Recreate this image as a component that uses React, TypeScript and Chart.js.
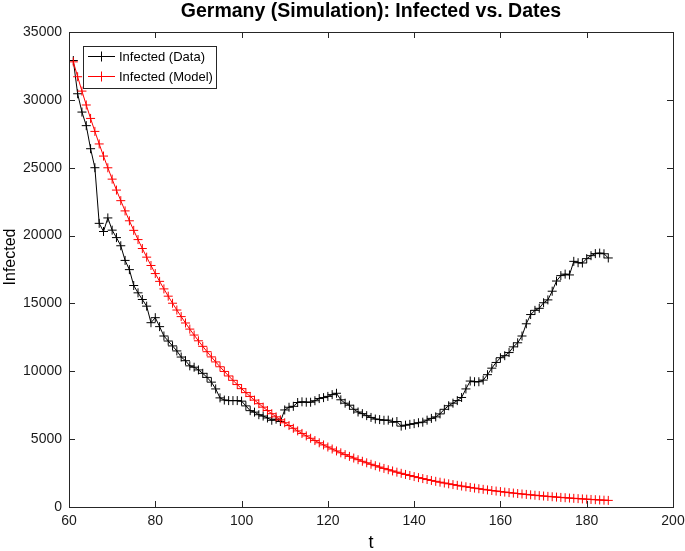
import React, { useEffect, useRef } from "react";
import { Chart, registerables } from "chart.js";

Chart.register(...registerables);

const FONT = "'Liberation Sans', Arial, Helvetica, sans-serif";

const chartTitle = "Germany (Simulation): Infected vs. Dates";
const xTitle = "t";
const yTitle = "Infected";
const dataLabel = "Infected (Data)";
const modelLabel = "Infected (Model)";

const xRange = [60, 200];
const xStep = 20;
const yRange = [0, 35000];
const yStep = 5000;

const tValues = [
  61, 62, 63, 64, 65, 66, 67, 68, 69, 70, 71, 72, 73, 74, 75, 76, 77, 78, 79, 80,
  81, 82, 83, 84, 85, 86, 87, 88, 89, 90, 91, 92, 93, 94, 95, 96, 97, 98, 99, 100,
  101, 102, 103, 104, 105, 106, 107, 108, 109, 110, 111, 112, 113, 114, 115, 116, 117, 118, 119, 120,
  121, 122, 123, 124, 125, 126, 127, 128, 129, 130, 131, 132, 133, 134, 135, 136, 137, 138, 139, 140,
  141, 142, 143, 144, 145, 146, 147, 148, 149, 150, 151, 152, 153, 154, 155, 156, 157, 158, 159, 160,
  161, 162, 163, 164, 165, 166, 167, 168, 169, 170, 171, 172, 173, 174, 175, 176, 177, 178, 179, 180,
  181, 182, 183, 184, 185,
];

const infectedData = [
  32900, 30450, 29100, 28100, 26400, 25000, 20900, 20300, 21300, 20400,
  19850, 19250, 18170, 17490, 16320, 15780, 15290, 14800, 13580, 13950,
  13290, 12600, 12230, 11870, 11500, 11050, 10780, 10400, 10300, 10100,
  9850, 9550, 9200, 8700, 8040, 7880, 7840, 7840, 7840, 7800,
  7450, 7100, 6990, 6800, 6700, 6560, 6390, 6470, 6300, 7150,
  7350, 7420, 7700, 7750, 7720, 7720, 7830, 7990, 8060, 8150,
  8280, 8380, 7900, 7650, 7500, 7200, 7000, 6880, 6730, 6600,
  6480, 6440, 6390, 6400, 6250, 6300, 5960, 6030, 6090, 6140,
  6210, 6250, 6400, 6530, 6640, 6860, 7200, 7460, 7650, 7840,
  8070, 8700, 9280, 9230, 9230, 9350, 9750, 10230, 10650, 11000,
  11150, 11380, 11800, 12100, 12600, 13500, 14180, 14490, 14640, 15050,
  15260, 15900, 16650, 17050, 17160, 17100, 18100, 18000, 17980, 18300,
  18520, 18670, 18710, 18660, 18350,
];

const infectedModel = [
  32800, 31704, 30645, 29622, 28632, 27676, 26751, 25858, 24994, 24159,
  23352, 22572, 21818, 21089, 20385, 19704, 19046, 18410, 17795, 17200,
  16626, 16071, 15534, 15015, 14514, 14029, 13560, 13108, 12670, 12247,
  11838, 11442, 11060, 10691, 10334, 9989, 9655, 9333, 9021, 8720,
  8428, 8147, 7875, 7612, 7358, 7112, 6875, 6645, 6423, 6208,
  6001, 5800, 5607, 5420, 5239, 5064, 4895, 4731, 4573, 4421,
  4273, 4130, 3992, 3859, 3730, 3606, 3485, 3369, 3256, 3148,
  3043, 2941, 2843, 2748, 2656, 2567, 2482, 2399, 2319, 2241,
  2166, 2094, 2024, 1956, 1891, 1828, 1767, 1708, 1651, 1596,
  1542, 1491, 1441, 1393, 1346, 1301, 1258, 1216, 1175, 1136,
  1098, 1061, 1026, 992, 959, 927, 896, 866, 837, 809,
  782, 756, 731, 706, 683, 660, 638, 617, 596, 576,
  557, 538, 520, 503, 486,
];

const AXIS_COLOR = "#262626";

function drawCross(ctx: CanvasRenderingContext2D, x: number, y: number, r: number) {
  ctx.beginPath();
  ctx.moveTo(x - r, y);
  ctx.lineTo(x + r, y);
  ctx.moveTo(x, y - r);
  ctx.lineTo(x, y + r);
  ctx.stroke();
}

const decorPlugin = {
  id: "decor",
  afterDatasetsDraw(chart: any) {
    const { ctx, chartArea } = chart;
    const { left, right, top, bottom } = chartArea;
    const xs = chart.scales.x;
    const ys = chart.scales.y;
    ctx.save();
    ctx.strokeStyle = AXIS_COLOR;
    ctx.lineWidth = 1;
    ctx.strokeRect(Math.round(left) + 0.5, Math.round(top) + 0.5, Math.round(right - left), Math.round(bottom - top));
    const tl = 6;
    ctx.beginPath();
    for (let v = xRange[0]; v <= xRange[1]; v += xStep) {
      const px = Math.round(xs.getPixelForValue(v)) + 0.5;
      ctx.moveTo(px, bottom);
      ctx.lineTo(px, bottom - tl);
      ctx.moveTo(px, top);
      ctx.lineTo(px, top + tl);
    }
    for (let v = yRange[0]; v <= yRange[1]; v += yStep) {
      const py = Math.round(ys.getPixelForValue(v)) + 0.5;
      ctx.moveTo(left, py);
      ctx.lineTo(left + tl, py);
      ctx.moveTo(right, py);
      ctx.lineTo(right - tl, py);
    }
    ctx.stroke();

    ctx.fillStyle = "#000";
    ctx.textAlign = "center";
    ctx.textBaseline = "middle";
    ctx.font = `bold 19.5px ${FONT}`;
    ctx.fillText(chartTitle, (left + right) / 2, 12);

    ctx.font = `18px ${FONT}`;
    ctx.fillText(xTitle, (left + right) / 2, 543);
    ctx.save();
    ctx.translate(11, 257);
    ctx.rotate(-Math.PI / 2);
    ctx.font = `16px ${FONT}`;
    ctx.fillText(yTitle, 0, 0);
    ctx.restore();

    const lx = 83.5, ly = 46.5, lw = 133, lh = 42;
    ctx.fillStyle = "#fff";
    ctx.fillRect(lx, ly, lw, lh);
    ctx.strokeStyle = AXIS_COLOR;
    ctx.strokeRect(lx, ly, lw, lh);
    const rows = [
      { label: dataLabel, color: "#000000", y: 56.5 },
      { label: modelLabel, color: "#ff0000", y: 76.5 },
    ];
    ctx.font = `13px ${FONT}`;
    ctx.textAlign = "left";
    for (const r of rows) {
      ctx.strokeStyle = r.color;
      ctx.lineWidth = 1;
      ctx.beginPath();
      ctx.moveTo(88, r.y);
      ctx.lineTo(115, r.y);
      ctx.stroke();
      drawCross(ctx, 101.5, r.y, 5);
      ctx.fillStyle = "#000";
      ctx.fillText(r.label, 119, r.y + 0.5);
    }
    ctx.restore();
  },
};

export default function App() {
  const ref = useRef<HTMLCanvasElement | null>(null);

  useEffect(() => {
    document.body.style.margin = "0";
    const canvas = ref.current;
    if (!canvas) return;
    const dataPts = tValues.map((t, i) => ({ x: t, y: infectedData[i] }));
    const modelPts = tValues.map((t, i) => ({ x: t, y: infectedModel[i] }));
    const tickFont = { family: FONT, size: 14 };
    const chart = new Chart(canvas, {
      type: "line",
      data: {
        datasets: [
          {
            label: modelLabel,
            data: modelPts,
            borderColor: "#ff0000",
            backgroundColor: "#ff0000",
            borderWidth: 1,
            pointStyle: "cross",
            pointRadius: 4.5,
            pointBorderWidth: 1,
            pointBorderColor: "#ff0000",
            pointHoverRadius: 4.5,
            tension: 0,
            order: 1,
          },
          {
            label: dataLabel,
            data: dataPts,
            borderColor: "#000000",
            backgroundColor: "#000000",
            borderWidth: 1,
            pointStyle: "cross",
            pointRadius: 4.5,
            pointBorderWidth: 1,
            pointBorderColor: "#000000",
            pointHoverRadius: 4.5,
            tension: 0,
            order: 2,
          },
        ],
      },
      options: {
        animation: false,
        responsive: false,
        devicePixelRatio: 1,
        layout: { padding: { top: 32, right: 12, left: 0, bottom: 0 } },
        plugins: {
          legend: { display: false },
          tooltip: { enabled: false },
          title: { display: false },
        },
        scales: {
          x: {
            type: "linear",
            min: xRange[0],
            max: xRange[1],
            ticks: {
              stepSize: xStep,
              font: tickFont,
              color: "#1a1a1a",
              padding: 6,
              maxRotation: 0,
              autoSkip: false,
              callback: (v: any) => String(v),
            },
            grid: { display: false, drawTicks: false },
            border: { display: false },
            afterFit: (s: any) => {
              s.height = 44;
              s.paddingLeft = 0;
              s.paddingRight = 0;
            },
          },
          y: {
            type: "linear",
            min: yRange[0],
            max: yRange[1],
            ticks: {
              stepSize: yStep,
              font: tickFont,
              color: "#1a1a1a",
              padding: 7,
              autoSkip: false,
              callback: (v: any) => String(v),
            },
            grid: { display: false, drawTicks: false },
            border: { display: false },
            afterFit: (s: any) => {
              s.width = 69;
              s.paddingTop = 0;
              s.paddingBottom = 0;
            },
          },
        },
      },
      plugins: [decorPlugin],
    } as any);
    return () => chart.destroy();
  }, []);

  return (
    <div style={{ width: 685, height: 551 }}>
      <canvas ref={ref} width={685} height={551} style={{ display: "block" }} />
    </div>
  );
}
